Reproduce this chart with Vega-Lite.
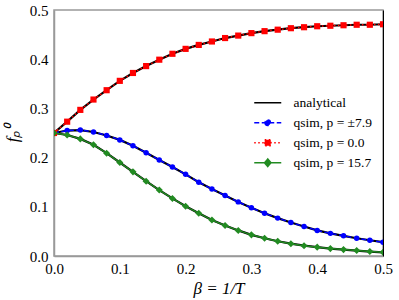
{
  "$schema": "https://vega.github.io/schema/vega-lite/v6.json",
  "width": 329,
  "height": 246,
  "autosize": {"type": "none"},
  "padding": {"left": 54, "top": 10, "right": 16, "bottom": 44},
  "background": "white",
  "config": {
    "view": {"stroke": "#999999", "strokeWidth": 1.5},
    "axis": {
      "labelFont": "Liberation Serif",
      "labelFontSize": 15,
      "labelColor": "black",
      "titleFont": "Liberation Serif",
      "titleFontSize": 17,
      "titleFontWeight": "normal",
      "titleFontStyle": "italic",
      "titleColor": "black",
      "domainColor": "#999999",
      "domainWidth": 1.5,
      "ticks": false,
      "grid": false
    },
    "legend": {
      "labelFont": "Liberation Serif",
      "labelFontSize": 13.5,
      "labelColor": "black"
    }
  },
  "data": {
    "values": [
      {"beta": 0.00, "f": 0.250, "s": "qsim, p = ±7.9"},
      {"beta": 0.02, "f": 0.255, "s": "qsim, p = ±7.9"},
      {"beta": 0.04, "f": 0.256, "s": "qsim, p = ±7.9"},
      {"beta": 0.06, "f": 0.252, "s": "qsim, p = ±7.9"},
      {"beta": 0.08, "f": 0.245, "s": "qsim, p = ±7.9"},
      {"beta": 0.10, "f": 0.236, "s": "qsim, p = ±7.9"},
      {"beta": 0.12, "f": 0.224, "s": "qsim, p = ±7.9"},
      {"beta": 0.14, "f": 0.210, "s": "qsim, p = ±7.9"},
      {"beta": 0.16, "f": 0.195, "s": "qsim, p = ±7.9"},
      {"beta": 0.18, "f": 0.181, "s": "qsim, p = ±7.9"},
      {"beta": 0.20, "f": 0.166, "s": "qsim, p = ±7.9"},
      {"beta": 0.22, "f": 0.150, "s": "qsim, p = ±7.9"},
      {"beta": 0.24, "f": 0.136, "s": "qsim, p = ±7.9"},
      {"beta": 0.26, "f": 0.123, "s": "qsim, p = ±7.9"},
      {"beta": 0.28, "f": 0.110, "s": "qsim, p = ±7.9"},
      {"beta": 0.30, "f": 0.098, "s": "qsim, p = ±7.9"},
      {"beta": 0.32, "f": 0.087, "s": "qsim, p = ±7.9"},
      {"beta": 0.34, "f": 0.077, "s": "qsim, p = ±7.9"},
      {"beta": 0.36, "f": 0.068, "s": "qsim, p = ±7.9"},
      {"beta": 0.38, "f": 0.060, "s": "qsim, p = ±7.9"},
      {"beta": 0.40, "f": 0.052, "s": "qsim, p = ±7.9"},
      {"beta": 0.42, "f": 0.046, "s": "qsim, p = ±7.9"},
      {"beta": 0.44, "f": 0.041, "s": "qsim, p = ±7.9"},
      {"beta": 0.46, "f": 0.036, "s": "qsim, p = ±7.9"},
      {"beta": 0.48, "f": 0.032, "s": "qsim, p = ±7.9"},
      {"beta": 0.50, "f": 0.028, "s": "qsim, p = ±7.9"},
      {"beta": 0.00, "f": 0.250, "s": "qsim, p = 0.0"},
      {"beta": 0.02, "f": 0.273, "s": "qsim, p = 0.0"},
      {"beta": 0.04, "f": 0.297, "s": "qsim, p = 0.0"},
      {"beta": 0.06, "f": 0.318, "s": "qsim, p = 0.0"},
      {"beta": 0.08, "f": 0.337, "s": "qsim, p = 0.0"},
      {"beta": 0.10, "f": 0.356, "s": "qsim, p = 0.0"},
      {"beta": 0.12, "f": 0.372, "s": "qsim, p = 0.0"},
      {"beta": 0.14, "f": 0.386, "s": "qsim, p = 0.0"},
      {"beta": 0.16, "f": 0.399, "s": "qsim, p = 0.0"},
      {"beta": 0.18, "f": 0.411, "s": "qsim, p = 0.0"},
      {"beta": 0.20, "f": 0.421, "s": "qsim, p = 0.0"},
      {"beta": 0.22, "f": 0.429, "s": "qsim, p = 0.0"},
      {"beta": 0.24, "f": 0.436, "s": "qsim, p = 0.0"},
      {"beta": 0.26, "f": 0.443, "s": "qsim, p = 0.0"},
      {"beta": 0.28, "f": 0.448, "s": "qsim, p = 0.0"},
      {"beta": 0.30, "f": 0.453, "s": "qsim, p = 0.0"},
      {"beta": 0.32, "f": 0.457, "s": "qsim, p = 0.0"},
      {"beta": 0.34, "f": 0.460, "s": "qsim, p = 0.0"},
      {"beta": 0.36, "f": 0.463, "s": "qsim, p = 0.0"},
      {"beta": 0.38, "f": 0.465, "s": "qsim, p = 0.0"},
      {"beta": 0.40, "f": 0.467, "s": "qsim, p = 0.0"},
      {"beta": 0.42, "f": 0.468, "s": "qsim, p = 0.0"},
      {"beta": 0.44, "f": 0.469, "s": "qsim, p = 0.0"},
      {"beta": 0.46, "f": 0.470, "s": "qsim, p = 0.0"},
      {"beta": 0.48, "f": 0.470, "s": "qsim, p = 0.0"},
      {"beta": 0.50, "f": 0.471, "s": "qsim, p = 0.0"},
      {"beta": 0.00, "f": 0.250, "s": "qsim, p = 15.7"},
      {"beta": 0.02, "f": 0.246, "s": "qsim, p = 15.7"},
      {"beta": 0.04, "f": 0.238, "s": "qsim, p = 15.7"},
      {"beta": 0.06, "f": 0.226, "s": "qsim, p = 15.7"},
      {"beta": 0.08, "f": 0.209, "s": "qsim, p = 15.7"},
      {"beta": 0.10, "f": 0.190, "s": "qsim, p = 15.7"},
      {"beta": 0.12, "f": 0.171, "s": "qsim, p = 15.7"},
      {"beta": 0.14, "f": 0.152, "s": "qsim, p = 15.7"},
      {"beta": 0.16, "f": 0.134, "s": "qsim, p = 15.7"},
      {"beta": 0.18, "f": 0.117, "s": "qsim, p = 15.7"},
      {"beta": 0.20, "f": 0.101, "s": "qsim, p = 15.7"},
      {"beta": 0.22, "f": 0.087, "s": "qsim, p = 15.7"},
      {"beta": 0.24, "f": 0.073, "s": "qsim, p = 15.7"},
      {"beta": 0.26, "f": 0.062, "s": "qsim, p = 15.7"},
      {"beta": 0.28, "f": 0.052, "s": "qsim, p = 15.7"},
      {"beta": 0.30, "f": 0.043, "s": "qsim, p = 15.7"},
      {"beta": 0.32, "f": 0.036, "s": "qsim, p = 15.7"},
      {"beta": 0.34, "f": 0.030, "s": "qsim, p = 15.7"},
      {"beta": 0.36, "f": 0.025, "s": "qsim, p = 15.7"},
      {"beta": 0.38, "f": 0.021, "s": "qsim, p = 15.7"},
      {"beta": 0.40, "f": 0.018, "s": "qsim, p = 15.7"},
      {"beta": 0.42, "f": 0.015, "s": "qsim, p = 15.7"},
      {"beta": 0.44, "f": 0.013, "s": "qsim, p = 15.7"},
      {"beta": 0.46, "f": 0.011, "s": "qsim, p = 15.7"},
      {"beta": 0.48, "f": 0.009, "s": "qsim, p = 15.7"},
      {"beta": 0.50, "f": 0.0075, "s": "qsim, p = 15.7"}
    ]
  },
  "resolve": {
    "axis": {"y": "independent"}
  },
  "layer": [
    {
      "mark": {"type": "line", "color": "black", "strokeWidth": 2.2, "clip": true},
      "encoding": {
        "x": {"field": "beta", "type": "quantitative", "scale": {"domain": [0, 0.5], "nice": false}, "axis": {"title": "β = 1/T", "values": [0, 0.1, 0.2, 0.3, 0.4, 0.5], "format": ".1f", "labelPadding": 5, "titlePadding": 4, "labelFlush": false}},
        "y": {"field": "f", "type": "quantitative", "scale": {"domain": [0, 0.5], "nice": false}, "axis": {"orient": "left", "title": "fₚ⁰", "values": [0, 0.1, 0.2, 0.3, 0.4, 0.5], "format": ".1f", "labelPadding": 6, "titlePadding": 8, "labelFlush": false}},
        "detail": {"field": "s"}
      }
    },
    {
      "transform": [{"filter": "datum.s === 'qsim, p = ±7.9'"}],
      "mark": {"type": "line", "strokeWidth": 1.5, "color": "#0000ff", "strokeDash": [5, 2.5], "clip": true},
      "encoding": {
        "x": {"field": "beta", "type": "quantitative"},
        "y": {"field": "f", "type": "quantitative", "axis": {"orient": "right", "title": null, "labels": false, "ticks": false, "domainColor": "black", "domainWidth": 1}}
      }
    },
    {
      "transform": [{"filter": "datum.s === 'qsim, p = 0.0'"}],
      "mark": {"type": "line", "strokeWidth": 1.5, "color": "#ff0000", "strokeDash": [1.5, 2.5], "clip": true},
      "encoding": {
        "x": {"field": "beta", "type": "quantitative"},
        "y": {"field": "f", "type": "quantitative", "axis": null}
      }
    },
    {
      "transform": [{"filter": "datum.s === 'qsim, p = 15.7'"}],
      "mark": {"type": "line", "strokeWidth": 1.5, "color": "#228b22", "clip": true},
      "encoding": {
        "x": {"field": "beta", "type": "quantitative"},
        "y": {"field": "f", "type": "quantitative", "axis": null}
      }
    },
    {
      "transform": [{"filter": "datum.s === 'qsim, p = ±7.9'"}],
      "mark": {"type": "point", "filled": true, "opacity": 1, "shape": "circle", "size": 30, "color": "#0000ff", "clip": true},
      "encoding": {
        "x": {"field": "beta", "type": "quantitative"},
        "y": {"field": "f", "type": "quantitative", "axis": null}
      }
    },
    {
      "transform": [{"filter": "datum.s === 'qsim, p = 0.0'"}],
      "mark": {"type": "point", "filled": true, "opacity": 1, "shape": "square", "size": 38, "color": "#ff0000", "clip": true},
      "encoding": {
        "x": {"field": "beta", "type": "quantitative"},
        "y": {"field": "f", "type": "quantitative", "axis": null}
      }
    },
    {
      "transform": [{"filter": "datum.s === 'qsim, p = 15.7'"}],
      "mark": {"type": "point", "filled": true, "opacity": 1, "shape": "diamond", "size": 50, "color": "#228b22", "clip": true},
      "encoding": {
        "x": {"field": "beta", "type": "quantitative"},
        "y": {"field": "f", "type": "quantitative", "axis": null}
      }
    },
    {
      "mark": {"type": "point", "opacity": 0, "strokeWidth": 1.5, "size": 100},
      "encoding": {
        "x": {"field": "beta", "type": "quantitative"},
        "y": {"field": "f", "type": "quantitative", "axis": null},
        "fill": {"field": "s", "type": "nominal", "scale": {"domain": ["analytical", "qsim, p = ±7.9", "qsim, p = 0.0", "qsim, p = 15.7"], "range": ["black", "#0000ff", "#ff0000", "#228b22"]},
          "legend": {"title": null, "orient": "none", "legendX": 207, "legendY": 86, "symbolSize": 100, "symbolStrokeWidth": 1.5, "labelOffset": 19, "rowPadding": 5, "padding": 0,
            "encode": {"symbols": {"update": {"opacity": {"value": 1}, "fillOpacity": {"value": 1}, "strokeOpacity": {"value": 1}}}}}},
        "stroke": {"field": "s", "type": "nominal", "scale": {"domain": ["analytical", "qsim, p = ±7.9", "qsim, p = 0.0", "qsim, p = 15.7"], "range": ["black", "#0000ff", "#ff0000", "#228b22"]}},
        "shape": {"field": "s", "type": "nominal", "scale": {"domain": ["analytical", "qsim, p = ±7.9", "qsim, p = 0.0", "qsim, p = 15.7"], "range": ["M-2.7,0H2.7", "M-2.7,0H2.7M-0.54,0A0.54,0.54,0,1,0,0.54,0A0.54,0.54,0,1,0,-0.54,0Z", "M-2.7,0H2.7M-0.6,-0.6H0.6V0.6H-0.6Z", "M-2.7,0H2.7M0,-0.75L0.65,0L0,0.75L-0.65,0Z"]}},
        "strokeDash": {"field": "s", "type": "nominal", "scale": {"domain": ["analytical", "qsim, p = ±7.9", "qsim, p = 0.0", "qsim, p = 15.7"], "range": [[1, 0], [5, 2.5], [1.5, 2.5], [1, 0]]}}
      }
    }
  ]
}
